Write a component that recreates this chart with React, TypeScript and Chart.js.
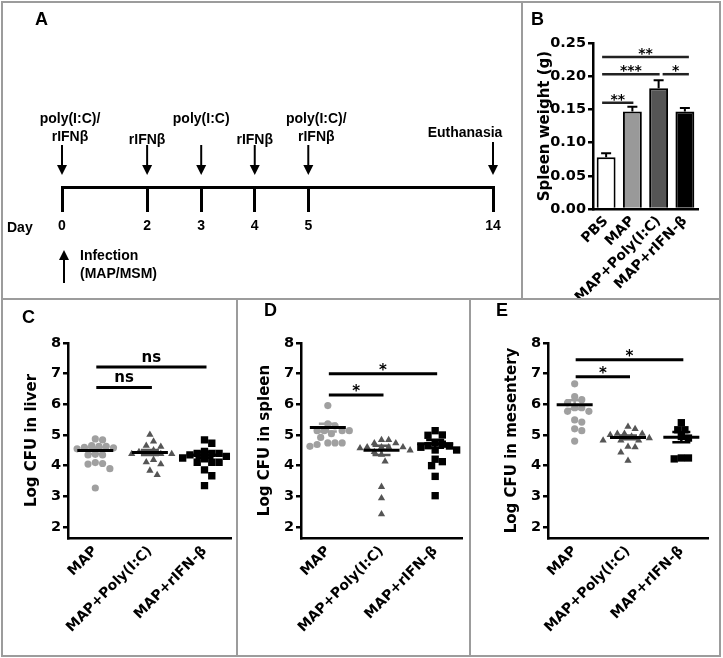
import React, { useEffect, useRef } from 'react';
import { Chart, registerables } from 'chart.js';
Chart.register(...registerables);

const SANS = "'Liberation Sans', Arial, sans-serif";
const DEJA = "'DejaVu Sans', sans-serif";

// ---------- Panel A: timeline ----------
const dayLabels = ['0', '2', '3', '4', '5', '14'];
const dayPos = [0, 1.59, 2.6, 3.6, 4.6, 8.05];
const treatmentDays = ['0', '2', '3', '4', '5'];
const treatmentText = [['poly(I:C)/', 'rIFNβ'], ['rIFNβ'], ['poly(I:C)'], ['rIFNβ'], ['poly(I:C)/', 'rIFNβ']];
const endDay = '14';
const endText = 'Euthanasia';
const infectionDay = '0';
const infectionText = ['Infection', '(MAP/MSM)'];

// ---------- Panel B: spleen weight ----------
const bGroups = ['PBS', 'MAP', 'MAP+Poly(I:C)', 'MAP+rIFN-β'];
const bMeans = [0.078, 0.147, 0.182, 0.147];
const bSems = [0.006, 0.007, 0.012, 0.005];
const bColors = ['#ffffff', '#999999', '#555555', '#000000'];
const bComps: [number, number, number, string][] = [
  [0, 1, 0.160, '**'],
  [0, 2, 0.203, '***'],
  [2, 3, 0.203, '*'],
  [0, 3, 0.229, '**'],
];

// ---------- Panels C-E: log CFU ----------
const dotGroups = ['MAP', 'MAP+Poly(I:C)', 'MAP+rIFN-β'];
const logTicks = [2, 3, 4, 5, 6, 7, 8];
const dotColors = ['#a0a0a0', '#555555', '#000000'];
const dotStyles = ['circle', 'triangle', 'rect'];
const dotRadius = [3.6, 4.2, 5.2];

const liverMap = [4.87, 4.84, 4.65, 4.63, 4.63, 4.6, 4.58, 4.55, 4.37, 4.35, 4.35, 4.1, 4.07, 4.05, 3.9, 3.27];
const liverPoly = [5.01, 4.79, 4.65, 4.62, 4.5, 4.45, 4.38, 4.38, 4.38, 4.38, 4.19, 4.11, 4.05, 3.84, 3.7];
const liverIfn = [4.84, 4.73, 4.46, 4.4, 4.4, 4.4, 4.35, 4.3, 4.25, 4.22, 4.11, 4.11, 4.11, 3.86, 3.67, 3.35];
const liverMeans = [4.49, 4.43, 4.35];
const liverSems = [0.1, 0.08, 0.09];
const liverComps: [number, number, number, string][] = [[0, 2, 7.22, 'ns'], [0, 1, 6.55, 'ns']];

const spleenMap = [5.96, 5.36, 5.3, 5.14, 5.14, 5.14, 5.14, 5.04, 4.92, 4.74, 4.74, 4.74, 4.69, 4.63];
const spleenPoly = [4.84, 4.84, 4.73, 4.73, 4.6, 4.6, 4.6, 4.6, 4.57, 4.5, 4.45, 4.36, 4.14, 3.31, 2.94, 2.42];
const spleenIfn = [5.14, 5.0, 4.99, 4.76, 4.7, 4.65, 4.64, 4.6, 4.51, 4.51, 4.21, 4.13, 4.0, 3.65, 3.02];
const spleenMeans = [5.24, 4.5, 4.71];
const spleenSems = [0.13, 0.15, 0.13];
const spleenComps: [number, number, number, string][] = [[0, 2, 7.0, '*'], [0, 1, 6.3, '*']];

const mesMap = [6.67, 6.25, 6.15, 6.05, 5.89, 5.89, 5.77, 5.77, 5.49, 5.42, 5.2, 5.14, 4.8];
const mesPoly = [5.27, 5.2, 5.04, 5.04, 5.04, 5.0, 4.95, 4.9, 4.82, 4.82, 4.82, 4.62, 4.6, 4.43, 4.16];
const mesIfn = [5.4, 5.17, 5.17, 4.95, 4.9, 4.25, 4.22, 4.25];
const mesMeans = [5.99, 4.92, 4.93];
const mesSems = [0.14, 0.06, 0.17];
const mesComps: [number, number, number, string][] = [[0, 2, 7.45, '*'], [0, 1, 6.9, '*']];

// ---------- helpers ----------
function swarm(vals: number[], gi: number) {
  const PX_Y = 30.6, PX_X = 54, D = 7.2, STEP = 3.6;
  const sorted = [...vals].sort((a, b) => b - a);
  const placed: { dx: number; v: number }[] = [];
  for (const v of sorted) {
    for (let k = 0; k < 60; k++) {
      const dx = Math.ceil(k / 2) * (k % 2 ? 1 : -1) * STEP;
      if (placed.every(p => Math.hypot(dx - p.dx, (v - p.v) * PX_Y) >= D)) {
        placed.push({ dx, v });
        break;
      }
    }
  }
  return placed.map(p => ({ x: gi + p.dx / PX_X, y: p.v }));
}

function arrow(ctx: CanvasRenderingContext2D, x: number, yFrom: number, yTip: number) {
  const dir = yTip > yFrom ? 1 : -1;
  ctx.beginPath();
  ctx.moveTo(x, yFrom);
  ctx.lineTo(x, yTip - dir * 8);
  ctx.stroke();
  ctx.beginPath();
  ctx.moveTo(x, yTip);
  ctx.lineTo(x - 5, yTip - dir * 10);
  ctx.lineTo(x + 5, yTip - dir * 10);
  ctx.closePath();
  ctx.fill();
}

function makeSigPlugin(comps: [number, number, number, string][], fontSize: number, lw: number, color: string,
  x1f: (a: number, px: number) => number, x2f: (b: number, px: number) => number) {
  return {
    id: 'sig',
    afterDatasetsDraw(chart: any) {
      const { ctx, scales: { x, y } } = chart;
      ctx.save();
      ctx.strokeStyle = color;
      ctx.fillStyle = '#000';
      ctx.lineWidth = lw;
      ctx.font = `bold ${fontSize}px ${DEJA}`;
      ctx.textAlign = 'center';
      ctx.textBaseline = 'alphabetic';
      comps.forEach(([a, b, v, t]) => {
        const xa = x1f(a, x.getPixelForValue(a));
        const xb = x2f(b, x.getPixelForValue(b));
        const py = y.getPixelForValue(v);
        ctx.beginPath();
        ctx.moveTo(xa, py);
        ctx.lineTo(xb, py);
        ctx.stroke();
        ctx.fillText(t, (xa + xb) / 2, py + (t === 'ns' ? -5 : 1));
      });
      ctx.restore();
    },
  };
}

function makeStatsPlugin(means: number[], sems: number[]) {
  return {
    id: 'dotStats',
    afterDatasetsDraw(chart: any) {
      const { ctx, scales: { x, y } } = chart;
      ctx.save();
      means.forEach((m, i) => {
        const cx = x.getPixelForValue(i);
        const ym = y.getPixelForValue(m);
        const y1 = y.getPixelForValue(m + sems[i]);
        const y2 = y.getPixelForValue(m - sems[i]);
        ctx.strokeStyle = dotColors[i];
        ctx.lineWidth = 2.5;
        ctx.beginPath();
        ctx.moveTo(cx, y1); ctx.lineTo(cx, y2);
        ctx.moveTo(cx - 9, y1); ctx.lineTo(cx + 9, y1);
        ctx.moveTo(cx - 9, y2); ctx.lineTo(cx + 9, y2);
        ctx.stroke();
        ctx.strokeStyle = '#000';
        ctx.lineWidth = 3;
        ctx.beginPath();
        ctx.moveTo(cx - 18, ym); ctx.lineTo(cx + 18, ym);
        ctx.stroke();
      });
      ctx.restore();
    },
  };
}

// ---------- configs ----------
function timelineConfig(): any {
  const plugin = {
    id: 'timeline',
    afterDraw(chart: any) {
      const { ctx, chartArea, scales: { x } } = chart;
      const base = chartArea.bottom;
      const px = (d: string) => x.getPixelForValue(dayPos[dayLabels.indexOf(d)]);
      ctx.save();
      ctx.fillStyle = '#000';
      ctx.strokeStyle = '#000';
      ctx.lineWidth = 2;
      ctx.font = `bold 14px ${SANS}`;
      ctx.textAlign = 'center';
      ctx.textBaseline = 'middle';
      treatmentDays.forEach((d, i) => {
        const cx = px(d);
        arrow(ctx, cx, base - 42, base - 12);
        const lines = treatmentText[i];
        const off = lines.length > 1 ? 8 : 0;
        lines.forEach((t, j) => {
          const ty = lines.length === 1 && t.startsWith('rIFN') ? base - 47 : base - 68 + 18 * j;
          ctx.fillText(t, cx + off, ty);
        });
      });
      const ex = px(endDay);
      arrow(ctx, ex, base - 45, base - 12);
      ctx.fillText(endText, ex - 28, base - 54);
      const ix = px(infectionDay) + 2;
      arrow(ctx, ix, base + 96, base + 63);
      ctx.textAlign = 'left';
      infectionText.forEach((t, j) => ctx.fillText(t, ix + 16, base + 69 + 18 * j));
      ctx.fillText('Day', chartArea.left - 55, base + 41);
      ctx.restore();
    },
  };
  return {
    type: 'scatter',
    data: { datasets: [{ data: dayPos.map(p => ({ x: p, y: 0 })), pointRadius: 0 }] },
    options: {
      animation: false,
      responsive: false,
      events: [],
      layout: { padding: { left: 62, right: 522 - 493, top: 60, bottom: 0 } },
      plugins: { legend: { display: false }, tooltip: { enabled: false } },
      scales: {
        x: {
          type: 'linear',
          min: dayPos[0],
          max: dayPos[dayPos.length - 1],
          afterBuildTicks: (s: any) => { s.ticks = dayPos.map(v => ({ value: v })); },
          afterFit: (s: any) => { s.height = 299 - 187; },
          ticks: { callback: (_v: any, i: number) => dayLabels[i], font: { family: SANS, size: 14, weight: 'bold' }, color: '#000', padding: 6, autoSkip: false, maxRotation: 0 },
          grid: { drawOnChartArea: false, drawTicks: true, tickLength: 25, lineWidth: 3, color: '#000' },
          border: { display: true, width: 3, color: '#000' },
        },
        y: { display: false, min: -1, max: 1 },
      },
    },
    plugins: [plugin],
  };
}

function barConfig(): any {
  const W = 198, H = 299, L = 71, R = 176, T = 43, B = 209;
  const errPlugin = {
    id: 'err',
    afterDatasetsDraw(chart: any) {
      const { ctx, scales: { x, y } } = chart;
      ctx.save();
      ctx.strokeStyle = '#000';
      ctx.lineWidth = 2;
      bMeans.forEach((m, i) => {
        const cx = x.getPixelForValue(i);
        const y0 = y.getPixelForValue(m);
        const y1 = y.getPixelForValue(m + bSems[i]);
        ctx.beginPath();
        ctx.moveTo(cx, y0); ctx.lineTo(cx, y1);
        ctx.moveTo(cx - 5, y1); ctx.lineTo(cx + 5, y1);
        ctx.stroke();
      });
      ctx.restore();
    },
  };
  const sig = makeSigPlugin(bComps, 14, 2.5, '#222',
    (a, p) => p + (a === 0 ? -4 : 4), (b, p) => p + (b === 3 ? 4 : 1));
  const font = { family: DEJA, size: 14, weight: 'bold' };
  return {
    type: 'bar',
    data: {
      labels: bGroups,
      datasets: [{ data: bMeans, backgroundColor: bColors, borderColor: '#000', borderWidth: 2, barPercentage: 0.72, categoryPercentage: 1 }],
    },
    options: {
      animation: false,
      responsive: false,
      events: [],
      layout: { padding: { left: 0, right: W - R, top: T, bottom: 0 } },
      plugins: { legend: { display: false }, tooltip: { enabled: false } },
      scales: {
        x: {
          grid: { display: false },
          border: { display: true, color: '#000', width: 2.5 },
          ticks: { font, color: '#000', minRotation: 45, maxRotation: 45, padding: -4, autoSkip: false },
          afterFit: (s: any) => { s.height = H - B; },
        },
        y: {
          min: 0,
          max: 0.25,
          ticks: { stepSize: 0.05, callback: (v: number) => v.toFixed(2), font: { family: DEJA, size: 14.5, weight: 'bold' }, color: '#000', padding: 2 },
          grid: { drawOnChartArea: false, tickLength: 5, lineWidth: 2.5, color: '#000' },
          border: { display: true, color: '#000', width: 2.5 },
          title: { display: true, text: 'Spleen weight (g)', font: { family: DEJA, size: 15, weight: 'bold' }, color: '#000', padding: { top: 23 - 9, bottom: 0 } },
          afterFit: (s: any) => { s.width = L; },
        },
      },
    },
    plugins: [errPlugin, sig],
  };
}

function dotConfig(groups: number[][], means: number[], sems: number[], comps: [number, number, number, string][],
  yTitle: string, W: number, L: number, R: number): any {
  const H = 356, T = 43, B = 238;
  const font = { family: DEJA, size: 14, weight: 'bold' };
  const datasets = groups.map((vals, gi) => ({
    data: swarm(vals, gi),
    pointStyle: dotStyles[gi],
    pointRadius: dotRadius[gi],
    backgroundColor: dotColors[gi],
    borderWidth: 0,
    showLine: false,
  }));
  return {
    type: 'scatter',
    data: { datasets },
    options: {
      animation: false,
      responsive: false,
      events: [],
      layout: { padding: { left: 0, right: W - R, top: T, bottom: 0 } },
      plugins: { legend: { display: false }, tooltip: { enabled: false } },
      scales: {
        x: {
          type: 'linear',
          min: -0.5,
          max: 2.5,
          afterBuildTicks: (s: any) => { s.ticks = dotGroups.map((_g, i) => ({ value: i })); },
          ticks: { callback: (_v: any, i: number) => dotGroups[i], font, color: '#000', minRotation: 45, maxRotation: 45, padding: -3, autoSkip: false },
          grid: { display: false },
          border: { display: true, color: '#000', width: 2.5 },
          afterFit: (s: any) => { s.height = H - B; },
        },
        y: {
          type: 'linear',
          min: 1.64,
          max: 8,
          afterBuildTicks: (s: any) => { s.ticks = logTicks.map(v => ({ value: v })); },
          ticks: { font: { family: DEJA, size: 14.5, weight: 'bold' }, color: '#000', padding: 2 },
          grid: { drawOnChartArea: false, tickLength: 5, lineWidth: 2.5, color: '#000' },
          border: { display: true, color: '#000', width: 2.5 },
          title: { display: true, text: yTitle, font: { family: DEJA, size: 15, weight: 'bold' }, color: '#000', padding: { top: L - 36 - 9, bottom: 0 } },
          afterFit: (s: any) => { s.width = L; },
        },
      },
    },
    plugins: [makeStatsPlugin(means, sems), makeSigPlugin(comps, 15, 3, '#000', (_a, p) => p + 1, (_b, p) => p + 2)],
  };
}

function ChartCanvas(props: { left: number; top: number; width: number; height: number; make: () => any }) {
  const ref = useRef<HTMLCanvasElement>(null);
  useEffect(() => {
    const chart = new Chart(ref.current as HTMLCanvasElement, props.make());
    return () => chart.destroy();
  }, []);
  return (
    <canvas
      ref={ref}
      width={props.width}
      height={props.height}
      style={{ position: 'absolute', left: props.left, top: props.top, width: props.width, height: props.height }}
    />
  );
}

const GREY = '#9c9c9c';

function Letter(props: { x: number; y: number; t: string }) {
  return (
    <div style={{ position: 'absolute', left: props.x, top: props.y, font: `bold 18px ${SANS}`, lineHeight: 1, color: '#000' }}>
      {props.t}
    </div>
  );
}

export default function App() {
  return (
    <div style={{ position: 'absolute', left: 0, top: 0, width: 723, height: 658, background: '#fff', overflow: 'hidden' }}>
      <ChartCanvas left={0} top={0} width={522} height={299} make={timelineConfig} />
      <ChartCanvas left={522} top={0} width={198} height={299} make={barConfig} />
      <ChartCanvas left={0} top={300} width={237} height={356}
        make={() => dotConfig([liverMap, liverPoly, liverIfn], liverMeans, liverSems, liverComps, 'Log CFU in liver', 237, 68, 232)} />
      <ChartCanvas left={238} top={300} width={232} height={356}
        make={() => dotConfig([spleenMap, spleenPoly, spleenIfn], spleenMeans, spleenSems, spleenComps, 'Log CFU in spleen', 232, 63, 224)} />
      <ChartCanvas left={471} top={300} width={249} height={356}
        make={() => dotConfig([mesMap, mesPoly, mesIfn], mesMeans, mesSems, mesComps, 'Log CFU in mesentery', 249, 77, 237)} />
      <div style={{ position: 'absolute', left: 1, top: 1, width: 720, height: 656, border: `2px solid ${GREY}`, boxSizing: 'border-box', pointerEvents: 'none' }} />
      <div style={{ position: 'absolute', left: 521, top: 1, width: 2, height: 298, background: GREY }} />
      <div style={{ position: 'absolute', left: 1, top: 298, width: 720, height: 2, background: GREY }} />
      <div style={{ position: 'absolute', left: 236, top: 299, width: 2, height: 357, background: GREY }} />
      <div style={{ position: 'absolute', left: 469, top: 299, width: 2, height: 357, background: GREY }} />
      <Letter x={35} y={10} t="A" />
      <Letter x={531} y={10} t="B" />
      <Letter x={22} y={308} t="C" />
      <Letter x={264} y={301} t="D" />
      <Letter x={496} y={301} t="E" />
    </div>
  );
}
